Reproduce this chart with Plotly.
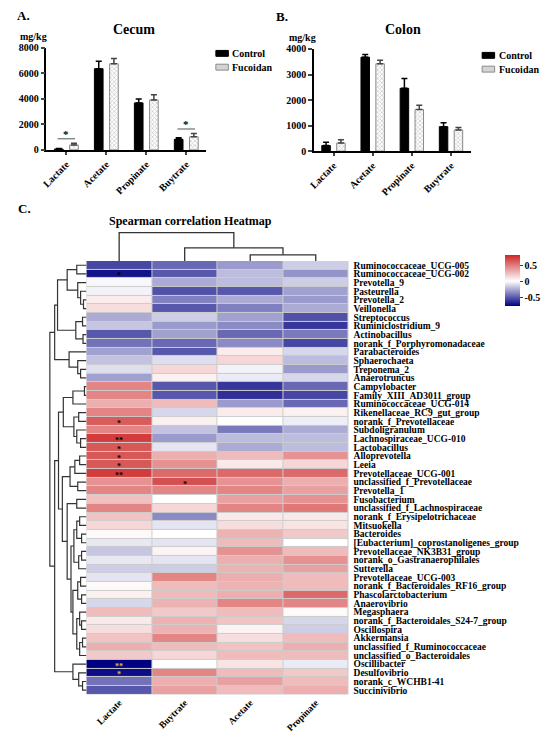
import plotly.graph_objects as go

W, H = 550, 734          # browser window
M = 8                    # default page margin around the plot div
FW, FH = W - M, H - M    # figure size that fits the window
SERIF = "Liberation Serif"

# ---- A / B: short chain fatty acids (mg/kg) ----
acids = ["Lactate", "Acetate", "Propinate", "Buytrate"]
groups = ["Control", "Fucoidan"]
cecum_control = [70, 6370, 3690, 830]
cecum_control_err = [30, 590, 310, 130]
cecum_fucoidan = [390, 6760, 3920, 1030]
cecum_fucoidan_err = [130, 410, 410, 260]
cecum_sig = ["*", "", "", "*"]
cecum_ticks = [0, 2000, 4000, 6000, 8000]

colon_control = [220, 3680, 2460, 960]
colon_control_err = [130, 100, 380, 150]
colon_fucoidan = [320, 3420, 1630, 830]
colon_fucoidan_err = [130, 140, 170, 100]
colon_ticks = [0, 1000, 2000, 3000, 4000]

# ---- C: Spearman correlation heatmap ----
hm_cols = ["Lactate", "Buytrate", "Acetate", "Propinate"]
genera = [
    "Ruminococcaceae_UCG-005", "Ruminococcaceae_UCG-002", "Prevotella_9", "Pasteurella",
    "Prevotella_2", "Veillonella", "Streptococcus", "Ruminiclostridium_9", "Actinobacillus",
    "norank_f_Porphyromonadaceae", "Parabacteroides", "Sphaerochaeta", "Treponema_2",
    "Anaerotruncus", "Campylobacter", "Family_XIII_AD3011_group", "Ruminococcaceae_UCG-014",
    "Rikenellaceae_RC9_gut_group", "norank_f_Prevotellaceae", "Subdoligranulum",
    "Lachnospiraceae_UCG-010", "Lactobacillus", "Alloprevotella", "Leeia",
    "Prevotellaceae_UCG-001", "unclassified_f_Prevotellaceae", "Prevotella_1", "Fusobacterium",
    "unclassified_f_Lachnospiraceae", "norank_f_Erysipelotrichaceae", "Mitsuokella",
    "Bacteroides", "[Eubacterium]_coprostanoligenes_group", "Prevotellaceae_NK3B31_group",
    "norank_o_Gastranaerophilales", "Sutterella", "Prevotellaceae_UCG-003",
    "norank_f_Bacteroidales_RF16_group", "Phascolarctobacterium", "Anaerovibrio",
    "Megasphaera", "norank_f_Bacteroidales_S24-7_group", "Oscillospira", "Akkermansia",
    "unclassified_f_Ruminococcaceae", "unclassified_o_Bacteroidales", "Oscillibacter",
    "Desulfovibrio", "norank_c_WCHB1-41", "Succinivibrio",
]
lactate = [-0.55, -0.70, -0.02, -0.04, 0.07, 0.12, -0.25, -0.17, -0.50, -0.42,
           -0.28, -0.18, -0.10, -0.28, 0.45, 0.45, 0.30, 0.45, 0.60, 0.45,
           0.72, 0.62, 0.62, 0.62, 0.72, 0.40, 0.45, 0.23, 0.45, 0.22,
           0.15, 0.02, -0.07, -0.17, -0.07, -0.15, -0.08, 0.02, 0.05, -0.12,
           0.25, 0.08, 0.12, 0.22, 0.30, 0.20, -0.76, -0.72, -0.42, -0.50]
buytrate = [-0.45, -0.50, -0.25, -0.52, -0.38, -0.50, -0.15, -0.30, -0.28, -0.45,
            -0.50, -0.10, 0.15, 0.05, -0.50, -0.50, 0.25, -0.12, 0.05, -0.18,
            -0.30, -0.08, 0.30, 0.40, 0.55, 0.65, 0.45, 0.00, 0.15, -0.35,
            -0.08, 0.00, -0.08, 0.04, -0.08, -0.15, 0.45, 0.25, 0.25, 0.28,
            0.20, 0.28, 0.28, 0.45, 0.25, 0.15, 0.00, 0.45, 0.30, 0.35]
acetate = [-0.30, -0.20, -0.20, -0.50, -0.25, -0.38, -0.28, -0.35, -0.45, -0.35,
           0.07, 0.15, -0.04, -0.06, -0.60, -0.62, -0.30, 0.07, 0.00, -0.40,
           -0.20, -0.25, 0.25, 0.08, 0.55, 0.40, 0.45, 0.35, 0.45, 0.08,
           0.12, 0.28, 0.25, 0.40, 0.30, 0.28, 0.30, 0.28, 0.30, 0.45,
           0.25, 0.22, 0.04, 0.12, 0.22, 0.25, 0.10, 0.25, 0.35, 0.25]
propinate = [-0.15, -0.32, -0.15, -0.28, -0.30, -0.25, -0.52, -0.60, -0.40, -0.55,
             -0.12, -0.20, -0.30, -0.12, -0.45, -0.55, -0.45, 0.05, -0.05, -0.25,
             -0.20, -0.20, 0.40, 0.15, 0.55, 0.30, 0.35, 0.40, 0.50, 0.08,
             0.10, 0.20, 0.00, 0.25, 0.40, 0.35, 0.25, 0.25, 0.55, 0.45,
             0.02, -0.12, -0.15, 0.25, 0.30, 0.25, -0.06, 0.20, 0.25, 0.30]

# significance marks inside the heatmap (row index, column index)
star_row = [1, 18, 20, 21, 22, 23, 24, 25, 46, 47]
star_col = [0, 0, 0, 0, 0, 0, 0, 1, 0, 0]
star_txt = ["*", "*", "**", "*", "*", "*", "**", "*", "**", "*"]
star_clr = ["black"] * 8 + ["#e8b828"] * 2

# clustering trees: (height, left, right), leaves are row / column indices
row_tree = (38,
            (33,
             (30,
              (20, (10, 0, 1), (9, 2, (6, 3, (3, 4, 5)))),
              (11, (4, 6, 7), (3.5, 8, 9))),
             (18, 10, (9, 11, (6, 12, 13)))),
            (33,
             (29,
              (24, (14, (2, 14, 15), 16), (13, (8, 17, 18), (10, 19, (6, 20, 21)))),
              (25,
               (17, (12, (7, 22, 23), 24), (9, 25, 26)),
               (20, (10, 27, 28),
                (16,
                 (13, (10, (7, 29, 30), (5, 31, 32)), (8, (5, 33, 34), 35)),
                 (14, (9, (6, 36, 37), (5, 38, 39)),
                  (10, (7, 40, (5, 41, 42)), (7, (4, 43, 44), 45))))))),
             (14, 46, (8, 47, (4, 48, 49)))))
col_tree = (2.8, 0, (1.3, 1, (0.6, 2, 3)))


def px(x):
    return (x - M) / FW


def py(y):
    return 1 - (y - M) / FH


def tree_segments(node):
    pos_list, h_list = [], []

    def walk(n):
        if isinstance(n, int):
            return float(n), 0.0
        h, a, b = n
        pa, ha = walk(a)
        pb, hb = walk(b)
        pos_list.extend([pa, pa, pb, pb, None])
        h_list.extend([ha, h, h, hb, None])
        return (pa + pb) / 2, h

    walk(node)
    return pos_list, h_list


def bold(size, color="black"):
    return dict(family=SERIF, size=size, color=color, weight="bold")


fig = go.Figure()

ctrl_marker = dict(color="black", line=dict(color="black", width=1))
fuco_marker = dict(color="#d6d6d6", line=dict(color="#8a8a8a", width=1),
                   pattern=dict(shape="x", fgcolor="#9a9a9a", bgcolor="white",
                                size=3, solidity=0.45))


def err(vals, color):
    return dict(type="data", array=vals, arrayminus=[0] * len(vals), symmetric=False,
                color=color, thickness=1.5, width=3)


panels = [
    ("x", "y", cecum_control, cecum_control_err, cecum_fucoidan, cecum_fucoidan_err),
    ("x2", "y2", colon_control, colon_control_err, colon_fucoidan, colon_fucoidan_err),
]
for xa, ya, c, ce, f, fe in panels:
    fig.add_trace(go.Bar(x=acids, y=c, name=groups[0], marker=ctrl_marker,
                         error_y=err(ce, "black"), xaxis=xa, yaxis=ya, showlegend=False))
    fig.add_trace(go.Bar(x=acids, y=f, name=groups[1], marker=fuco_marker,
                         error_y=err(fe, "#444"), xaxis=xa, yaxis=ya, showlegend=False))

z = [list(r) for r in zip(lactate, buytrate, acetate, propinate)]
fig.add_trace(go.Heatmap(
    z=z, x=list(range(len(hm_cols))), y=list(range(len(genera))),
    zmin=-0.76, zmax=0.8,
    colorscale=[[0, "#000080"], [0.487, "#ffffff"], [1, "#CD2626"]],
    xgap=1, ygap=1, xaxis="x3", yaxis="y3", showlegend=False,
    colorbar=dict(x=px(508), xanchor="left", y=py(280), yanchor="middle",
                  len=72 / FH, thickness=15, outlinewidth=0,
                  tickvals=[-0.5, 0, 0.5], ticktext=["-0.5", "0", "0.5"],
                  ticks="outside", ticklen=3, tickcolor="#444",
                  tickfont=bold(10)),
))

cx, cy = tree_segments(col_tree)
fig.add_trace(go.Scatter(x=cx, y=cy, mode="lines", line=dict(color="#333", width=1.3),
                         xaxis="x4", yaxis="y4", showlegend=False, hoverinfo="skip"))
ry, rx = tree_segments(row_tree)
fig.add_trace(go.Scatter(x=rx, y=ry, mode="lines", line=dict(color="#333", width=1.2),
                         xaxis="x5", yaxis="y5", showlegend=False, hoverinfo="skip"))

bar_x = dict(showline=True, linecolor="black", linewidth=1.5, ticks="outside",
             ticklen=3, tickwidth=1.5, tickangle=-45, tickfont=bold(10), showgrid=False)
bar_y = dict(showline=True, linecolor="black", linewidth=1.5, ticks="outside",
             ticklen=4, tickwidth=1.5, tickfont=bold(10), showgrid=False, zeroline=False)
hidden = dict(visible=False, showgrid=False, zeroline=False)

fig.update_layout(
    width=FW, height=FH, margin=dict(l=0, r=0, t=0, b=0),
    paper_bgcolor="white", plot_bgcolor="white",
    barmode="group", bargap=0.24, bargroupgap=0.43,
    xaxis=dict(bar_x, domain=[px(41.7), px(208)]),
    yaxis=dict(bar_y, domain=[py(147), py(43.3)], range=[0, cecum_ticks[-1] * 1.002],
               tickvals=cecum_ticks),
    xaxis2=dict(bar_x, domain=[px(320), px(483)], anchor="y2"),
    yaxis2=dict(bar_y, domain=[py(148.3), py(44.3)], range=[0, colon_ticks[-1] * 1.002],
                tickvals=colon_ticks, anchor="x2"),
    xaxis3=dict(domain=[px(83.3), px(356)], anchor="y3", range=[-0.5, 3.5],
                tickvals=list(range(len(hm_cols))), ticktext=hm_cols, tickangle=-45,
                tickfont=bold(9.5), showgrid=False, zeroline=False, ticks=""),
    yaxis3=dict(domain=[py(700), py(259.7)], anchor="x3", side="right",
                range=[len(genera) - 0.5, -0.5], tickvals=list(range(len(genera))),
                ticktext=genera, tickfont=bold(9.5), showgrid=False, zeroline=False,
                ticks="", ticklabelstandoff=4),
    xaxis4=dict(hidden, domain=[px(83.3), px(356)], anchor="y4", range=[-0.5, 3.5]),
    yaxis4=dict(hidden, domain=[py(259.7), py(229)], anchor="x4", range=[0, 3.0]),
    xaxis5=dict(hidden, domain=[px(40), px(83.3)], anchor="y5", range=[43.3, 0]),
    yaxis5=dict(hidden, domain=[py(700), py(259.7)], anchor="x5",
                range=[len(genera) - 0.5, -0.5]),
)

# grey grid behind the heatmap cells
fig.add_shape(type="rect", xref="x3 domain", yref="y3 domain", x0=0, x1=1, y0=0, y1=1,
              fillcolor="#cccccc", line=dict(width=0), layer="below")

# legends of panels A and B (swatch left edge, first row centre)
legend_spots = [(218, 49), (495, 51)]
swatch_fill = ["black", "#d4d4d4"]
swatch_line = ["black", "#8a8a8a"]
for lx, ly in legend_spots:
    for k, name in enumerate(groups):
        yc = ly + 14 * k
        fig.add_shape(type="rect", xref="paper", yref="paper",
                      x0=px(lx), x1=px(lx + 13), y0=py(yc + 3), y1=py(yc - 3),
                      fillcolor=swatch_fill[k], line=dict(color=swatch_line[k], width=1))
        fig.add_annotation(x=px(lx + 15), y=py(yc), xref="paper", yref="paper", text=name,
                           showarrow=False, xanchor="left", yanchor="middle", font=bold(10))

# significance brackets on panel A
for i, s in enumerate(cecum_sig):
    if not s:
        continue
    top = max(cecum_control[i] + cecum_control_err[i],
              cecum_fucoidan[i] + cecum_fucoidan_err[i]) + 350
    fig.add_shape(type="line", xref="x", yref="y", x0=i - 0.22, x1=i + 0.22,
                  y0=top, y1=top, line=dict(color="#555", width=1))
    fig.add_annotation(x=i, y=top, xref="x", yref="y", text=s, showarrow=False,
                       yanchor="bottom", yshift=-3, font=bold(11))

for r, c, t, col in zip(star_row, star_col, star_txt, star_clr):
    fig.add_annotation(x=c, y=r, xref="x3", yref="y3", text=t, showarrow=False,
                       yshift=-2, font=bold(8, col))

labels = [
    ("A.", 9, 11, "left", 13), ("B.", 278, 12, "left", 13), ("C.", 10, 207, "left", 13),
    ("Cecum", 133, 25, "center", 14), ("Colon", 413, 25, "center", 14),
    ("mg/kg", 28, 32, "center", 10), ("mg/kg", 308, 33, "center", 10),
    ("Spearman correlation Heatmap", 192, 219, "center", 12),
]
for text, x, y, anchor, size in labels:
    fig.add_annotation(x=px(x), y=py(y), xref="paper", yref="paper", text=text,
                       showarrow=False, xanchor=anchor, yanchor="middle", font=bold(size))

fig.write_html("out.html")
